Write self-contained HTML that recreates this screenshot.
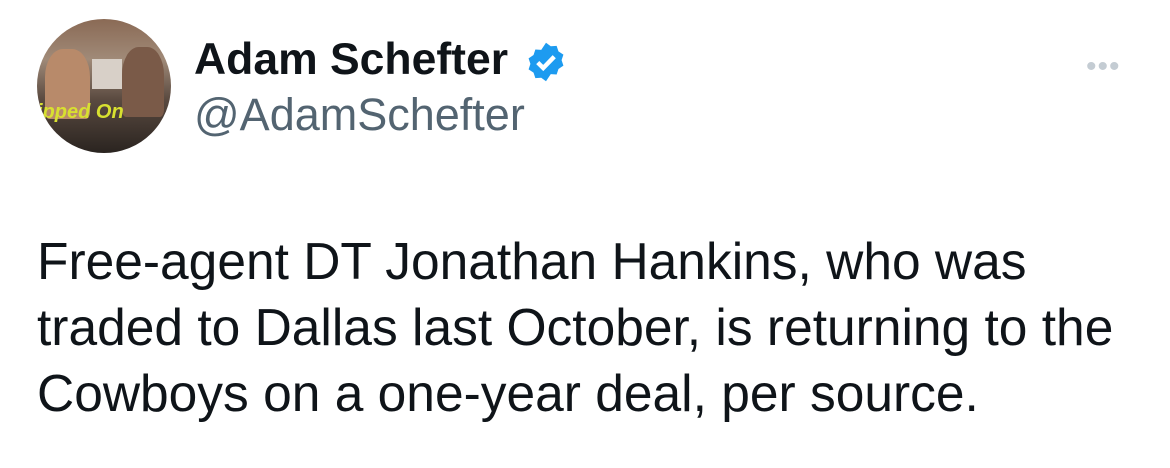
<!DOCTYPE html>
<html><head><meta charset="utf-8"><style>
html,body{margin:0;padding:0;background:#fff;width:1170px;height:468px;overflow:hidden;font-family:"Liberation Sans",Arial,sans-serif;}
.abs{position:absolute;white-space:nowrap}
</style></head><body>
<div style="position:relative;width:1170px;height:468px">
<div class="abs" style="left:37px;top:19px;width:134px;height:134px;border-radius:50%;overflow:hidden;background:linear-gradient(180deg,#8a6a55 0%,#a08a78 30%,#5a4a40 60%,#2a2420 100%)">
<div class="abs" style="left:8px;top:30px;width:45px;height:70px;border-radius:40% 40% 10% 10%;background:#b88a6a"></div>
<div class="abs" style="left:85px;top:28px;width:42px;height:70px;border-radius:40% 40% 10% 10%;background:#7a5a48"></div>
<div class="abs" style="left:55px;top:40px;width:30px;height:30px;background:#d8d0c8"></div>
<div class="abs" style="left:0;top:82px;font:italic bold 20px 'Liberation Sans',sans-serif;color:#d8e030">ipped On</div>
</div>
<div class="abs" style="left:194px;top:35px;font-size:44.5px;font-weight:bold;color:#0f1419">Adam Schefter</div>
<svg class="abs" style="left:524px;top:40px" width="44" height="44" viewBox="0 0 24 24"><path fill="#1d9bf0" d="M12 1.5l2.6 1.9 3.2-.2 1 3 2.7 1.8-1 3 1 3-2.7 1.8-1 3-3.2-.2L12 22.5l-2.6-1.9-3.2.2-1-3-2.7-1.8 1-3-1-3 2.7-1.8 1-3 3.2.2z"/><path d="M7.5 12.3l3 3 6-6.2" stroke="#fff" stroke-width="2.4" fill="none"/></svg>
<div class="abs" style="left:194px;top:89px;font-size:45px;color:#536471">@AdamSchefter</div>
<div class="abs" style="left:1086px;top:50px;font-size:30px;color:#c4ccd3;letter-spacing:1px">•••</div>
<div class="abs" style="left:37px;top:228px;font-size:51.5px;line-height:66px;color:#0f1419">Free-agent DT Jonathan Hankins, who was<br>traded to Dallas last October, is returning to the<br>Cowboys on a one-year deal, per source.</div>
</div>
</body></html>
